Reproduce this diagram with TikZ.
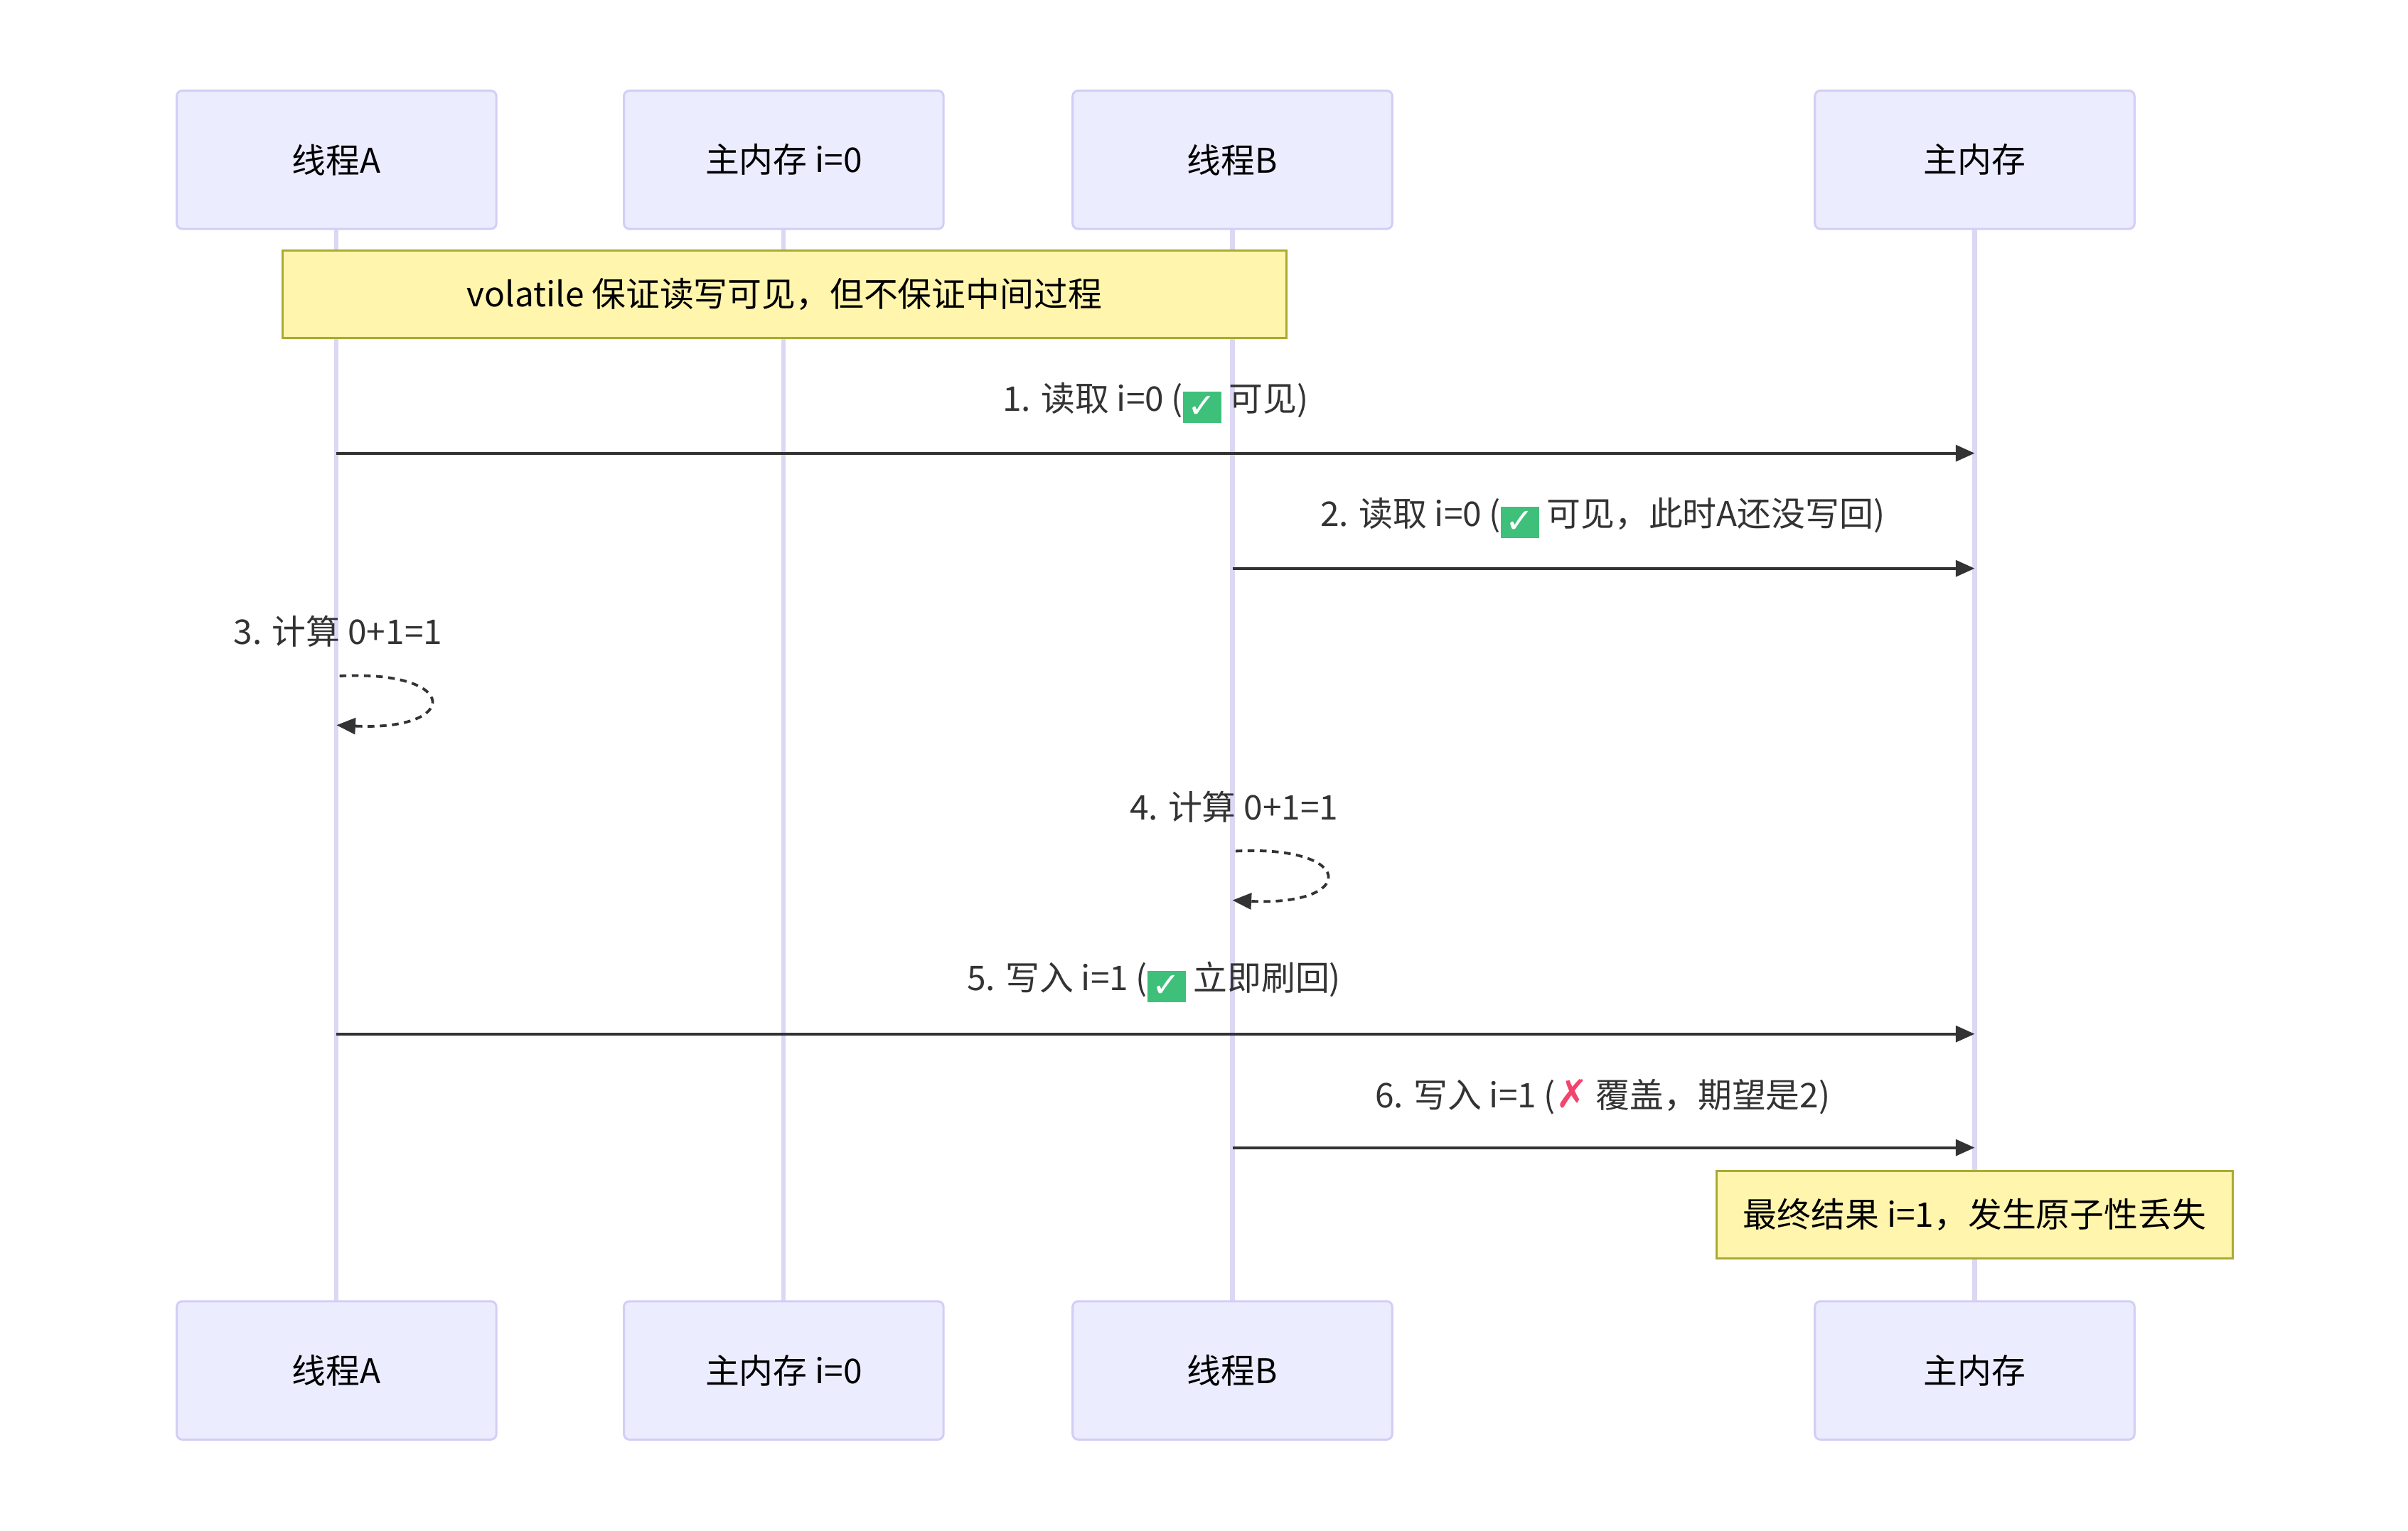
\documentclass[tikz,border=0pt]{standalone}
\usepackage{fontspec}
\setmainfont{Noto Sans CJK SC}
\newfontfamily\dejavu{DejaVu Sans}
\usetikzlibrary{arrows.meta}
\definecolor{actfill}{HTML}{ECECFF}
\definecolor{actline}{HTML}{D3CEF5}
\definecolor{lifeln}{HTML}{DCD7F3}
\definecolor{notefill}{HTML}{FFF5AD}
\definecolor{noteline}{HTML}{AAAA33}
\definecolor{msgcol}{HTML}{333333}
\definecolor{okgreen}{HTML}{3FC07A}
\definecolor{nored}{HTML}{F2456E}
\newcommand{\okmark}{{\setlength{\fboxsep}{1.8pt}\raisebox{-0.2em}{\colorbox{okgreen}{\color{white}\dejavu\bfseries ✓}}}}
\newcommand{\nomark}{{\dejavu\bfseries\Large\color{nored}✗}}
\begin{document}
\begin{tikzpicture}[x=0.02cm, y=-0.02cm, >={Triangle[length=7pt,width=6pt]}, font=\fontsize{12.6}{15}\selectfont]
        % Styles
        \tikzset{
            actor/.style={draw=actline, fill=actfill, rounded corners=2pt, line width=0.8pt, minimum width=4.16cm, minimum height=1.8cm},
            note/.style={draw=noteline, fill=notefill, line width=0.8pt, inner sep=0pt},
            life/.style={draw=lifeln, line width=1.6pt},
            msg/.style={->, draw=msgcol, line width=1pt},
            selfmsg/.style={->, draw=msgcol, line width=1pt, dash pattern=on 2.5pt off 2pt},
            lbl/.style={text=msgcol}
        }
        \useasboundingbox (0,0) rectangle (1567,996.5);

        % Lignes de vie
        \foreach \x in {219,510,802,1285}
            \draw[life] (\x,104) -- (\x,892);

        % Acteurs
        \foreach \n/\x/\t in {A/219/线程A, M/510/主内存 i=0, B/802/线程B, R/1285/主内存}{
            \node[actor] (\n top) at (\x,104) {\t};
            \node[actor] (\n bot) at (\x,892) {\t};
        }

        % Notes
        \node[note, minimum width=13.06cm, minimum height=1.14cm] (note1) at (510.5,191.5) {volatile 保证读写可见，但不保证中间过程};
        \node[note, minimum width=6.72cm, minimum height=1.14cm] (note2) at (1285,790.5) {最终结果 i=1，发生原子性丢失};

        % Points des messages
        \foreach \y in {295,673}{
            \coordinate (a\y) at (219,\y);
            \coordinate (r\y) at (1285,\y);
        }
        \foreach \y in {370,747}{
            \coordinate (b\y) at (802,\y);
            \coordinate (r\y) at (1285,\y);
        }
        \coordinate (s3a) at (221,440); \coordinate (s3b) at (219,472);
        \coordinate (s4a) at (804,554); \coordinate (s4b) at (802,586);

        % Messages
        \draw[msg] (a295) -- (r295);
        \node[lbl] (m1) at (752,262) {1. 读取 i=0 (\okmark{} 可见)};
        \draw[msg] (b370) -- (r370);
        \node[lbl] (m2) at (1043,337) {2. 读取 i=0 (\okmark{} 可见，此时A还没写回)};
        \draw[selfmsg] (s3a) .. controls (300,436) and (300,476) .. (s3b);
        \node[lbl] (m3) at (220,411) {3. 计算 0+1=1};
        \draw[selfmsg] (s4a) .. controls (883,550) and (883,590) .. (s4b);
        \node[lbl] (m4) at (803,525) {4. 计算 0+1=1};
        \draw[msg] (a673) -- (r673);
        \node[lbl] (m5) at (751,639) {5. 写入 i=1 (\okmark{} 立即刷回)};
        \draw[msg] (b747) -- (r747);
        \node[lbl] (m6) at (1043,714) {6. 写入 i=1 (\nomark{} 覆盖，期望是2)};
    \end{tikzpicture}
\end{document}
